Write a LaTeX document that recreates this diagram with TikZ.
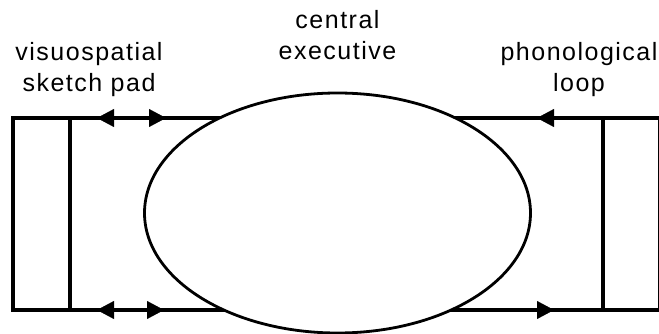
\documentclass[tikz,border=0pt]{standalone}
\usepackage{fontspec}
\setmainfont{Liberation Sans}
\usetikzlibrary{shapes.geometric,arrows.meta,backgrounds}
\begin{document}
\begin{tikzpicture}[x=1pt,y=-1pt,
  wire/.style={line width=3.2pt},
  tipline/.style={line width=0.1pt,-{Triangle[length=17pt,width=18pt]}},
  box/.style={draw,line width=3.2pt,inner sep=0pt,outer sep=0pt},
  lbl/.style={font=\fontsize{25}{31}\selectfont\addfontfeature{LetterSpace=6},align=center,inner sep=0pt}]
\useasboundingbox (0,0) rectangle (659,334);
% central executive ellipse
\node[draw,ellipse,line width=2.8pt,fill=white,inner sep=0pt,outer sep=0pt,
      minimum width=386pt,minimum height=240pt] (ce) at (337.5,213) {};
% slave system boxes
\node[box,minimum width=57pt,minimum height=192pt] (vs) at (41.5,214) {};
\node[box,minimum width=57pt,minimum height=192pt] (pl) at (631.5,214) {};
% connectors behind the ellipse
\begin{scope}[on background layer]
\draw[wire] (vs.north east) -- (vs.north east -| ce.center);
\draw[wire] (vs.south east) -- (vs.south east -| ce.center);
\draw[wire] (pl.north west) -- (pl.north west -| ce.center);
\draw[wire] (pl.south west) -- (pl.south west -| ce.center);
\end{scope}
% arrowheads
\coordinate (t1a) at (115,118); \coordinate (t1b) at (97,118);
\coordinate (t2a) at (148,118); \coordinate (t2b) at (166,118);
\coordinate (b1a) at (115,310); \coordinate (b1b) at (97,310);
\coordinate (b2a) at (146,310); \coordinate (b2b) at (164,310);
\coordinate (t3a) at (555,118); \coordinate (t3b) at (537,118);
\coordinate (b3a) at (536,310); \coordinate (b3b) at (554,310);
\foreach \a/\b in {t1a/t1b,t2a/t2b,b1a/b1b,b2a/b2b,t3a/t3b,b3a/b3b}
  \draw[tipline] (\a) -- (\b);
% labels
\node[lbl,anchor=base] (vsl) at (89,92) {visuospatial\\sketch pad};
\node[lbl,anchor=base] (cel) at (337.5,60) {central\\executive};
\node[lbl,anchor=base] (pll) at (579,92) {phonological\\loop};
\end{tikzpicture}
\end{document}
